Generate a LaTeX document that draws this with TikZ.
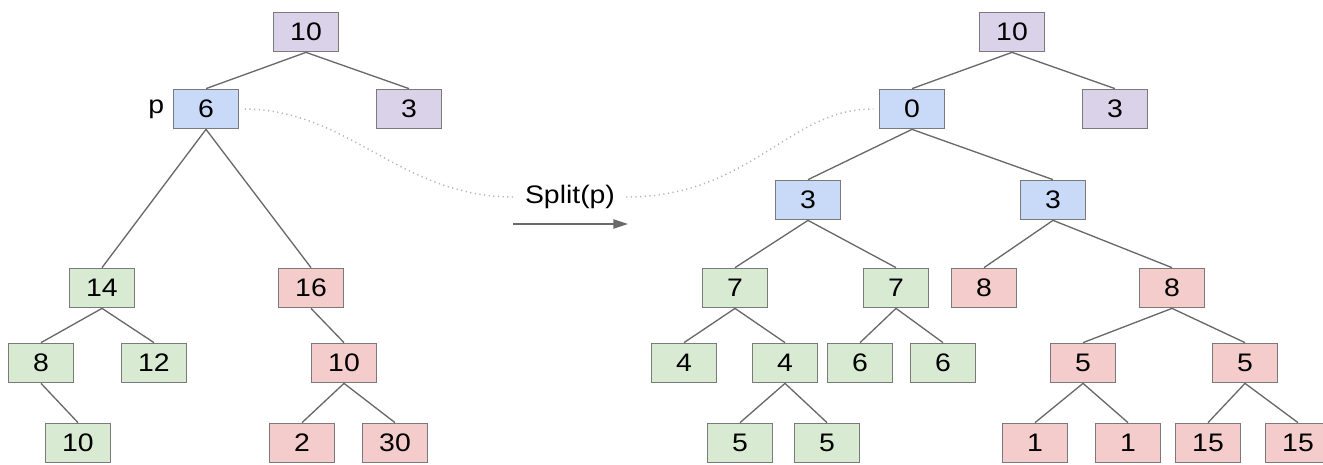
\documentclass[tikz,border=0pt]{standalone}
\usepackage{fontspec}
\setmainfont{Liberation Sans}
\newfontfamily\widesans[FakeStretch=1.12]{Liberation Sans}
\usetikzlibrary{positioning,arrows.meta}

\definecolor{boxline}{RGB}{122,122,122}
\definecolor{edgeline}{RGB}{105,105,105}
\definecolor{purplefill}{RGB}{217,210,233}
\definecolor{bluefill}{RGB}{201,218,248}
\definecolor{greenfill}{RGB}{217,234,211}
\definecolor{redfill}{RGB}{244,204,204}

\tikzset{every picture/.style={line width=0.75pt}}
\tikzset{
  cell/.style={draw=boxline, line width=1.3pt, minimum width=48.75pt, minimum height=29.25pt,
    inner sep=0pt, font=\widesans\fontsize{19}{22}\selectfont},
  purplecell/.style={cell, fill=purplefill},
  bluecell/.style={cell, fill=bluefill},
  greencell/.style={cell, fill=greenfill},
  redcell/.style={cell, fill=redfill},
  link/.style={draw=edgeline, line width=1pt},
  trail/.style={draw={rgb, 255:red, 180; green, 180; blue, 180}, line width=1.1pt, dash pattern={on 0.9pt off 2.6pt}}
}

\begin{document}
\begin{tikzpicture}[x=0.75pt,y=0.75pt,yscale=-1,xscale=1]
\useasboundingbox (0,0) rectangle (1323,464);

%Left tree
\node [purplecell] (l10) at (306,32) {10};
\node [bluecell] (l6) at (206,109) {6};
\node [purplecell] (l3) at (409,109) {3};
\node [inner sep=0pt, font=\widesans\fontsize{19}{22}\selectfont, left=6pt of l6] (lp) {p};
\node [greencell] (l14) at (102,288) {14};
\node [redcell] (l16) at (311,288) {16};
\node [greencell] (l8) at (41,363) {8};
\node [greencell] (l12) at (154,363) {12};
\node [redcell] (l10r) at (344,363) {10};
\node [greencell] (l10g) at (78,443) {10};
\node [redcell] (l2) at (302,443) {2};
\node [redcell] (l30) at (395,443) {30};

\draw [link] (l10.south) -- (l6.north);
\draw [link] (l10.south) -- (l3.north);
\draw [link] (l6.south) -- (l14.north);
\draw [link] (l6.south) -- (l16.north);
\draw [link] (l14.south) -- (l8.north);
\draw [link] (l14.south) -- (l12.north);
\draw [link] (l16.south) -- (l10r.north);
\draw [link] (l8.south) -- (l10g.north);
\draw [link] (l10r.south) -- (l2.north);
\draw [link] (l10r.south) -- (l30.north);

%Split label and arrow
\node [font=\widesans\fontsize{19}{22}\selectfont, inner sep=0pt] (split) at (570,197) {Split(p)};
\coordinate (arrowtail) at (513,224);
\coordinate (arrowhead) at (628,224);
\draw [edgeline, line width=1pt, -{Triangle[length=11pt, width=7pt]}] (arrowtail) -- (arrowhead);

%Right tree
\node [purplecell] (r10) at (1012,32) {10};
\node [bluecell] (r0) at (912,109) {0};
\node [purplecell] (r3) at (1115,109) {3};
\node [bluecell] (r3a) at (808,200) {3};
\node [bluecell] (r3b) at (1053,200) {3};
\node [greencell] (r7a) at (735,288) {7};
\node [greencell] (r7b) at (896,288) {7};
\node [redcell] (r8a) at (984,288) {8};
\node [redcell] (r8b) at (1172,288) {8};
\node [greencell] (r4a) at (684,363) {4};
\node [greencell] (r4b) at (785,363) {4};
\node [greencell] (r6a) at (860,363) {6};
\node [greencell] (r6b) at (943,363) {6};
\node [redcell] (r5a) at (1083,363) {5};
\node [redcell] (r5b) at (1245,363) {5};
\node [greencell] (r5c) at (740,443) {5};
\node [greencell] (r5d) at (827,443) {5};
\node [redcell] (r1a) at (1035,443) {1};
\node [redcell] (r1b) at (1128,443) {1};
\node [redcell] (r15a) at (1208,443) {15};
\node [redcell] (r15b) at (1298,443) {15};

\draw [link] (r10.south) -- (r0.north);
\draw [link] (r10.south) -- (r3.north);
\draw [link] (r0.south) -- (r3a.north);
\draw [link] (r0.south) -- (r3b.north);
\draw [link] (r3a.south) -- (r7a.north);
\draw [link] (r3a.south) -- (r7b.north);
\draw [link] (r3b.south) -- (r8a.north);
\draw [link] (r3b.south) -- (r8b.north);
\draw [link] (r7a.south) -- (r4a.north);
\draw [link] (r7a.south) -- (r4b.north);
\draw [link] (r7b.south) -- (r6a.north);
\draw [link] (r7b.south) -- (r6b.north);
\draw [link] (r4b.south) -- (r5c.north);
\draw [link] (r4b.south) -- (r5d.north);
\draw [link] (r8b.south) -- (r5a.north);
\draw [link] (r8b.south) -- (r5b.north);
\draw [link] (r5a.south) -- (r1a.north);
\draw [link] (r5a.south) -- (r1b.north);
\draw [link] (r5b.south) -- (r15a.north);
\draw [link] (r5b.south) -- (r15b.north);

%Dotted trail from p to the new root
\draw [trail] ([xshift=4pt]l6.east) .. controls (350,110) and (400,197) .. ([xshift=-8pt]split.west);
\draw [trail] ([xshift=8pt]split.east) .. controls (750,197) and (790,108) .. ([xshift=-4pt]r0.west);

\end{tikzpicture}
\end{document}
